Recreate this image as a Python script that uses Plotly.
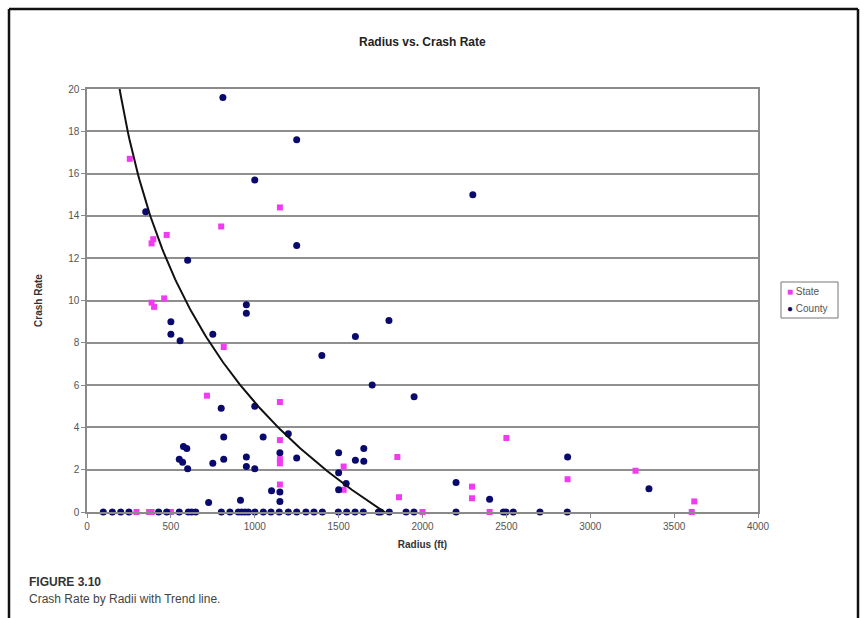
import numpy as np
import plotly.graph_objects as go

# ---- data ----
state_x = [255, 1150, 800, 475, 395, 385, 460, 385, 400, 815, 715, 1150, 1150, 1150, 1150, 1150,
           1530, 1530, 2500, 1850, 3270, 2865, 2295, 2295, 1860, 3620,
           295, 370, 385, 500, 2000, 2400, 3605]
state_y = [16.7, 14.4, 13.5, 13.1, 12.9, 12.7, 10.1, 9.9, 9.7, 7.8, 5.5, 5.2, 3.4, 2.5, 2.3, 1.3,
           2.15, 1.05, 3.5, 2.6, 1.95, 1.55, 1.2, 0.65, 0.7, 0.5,
           0, 0, 0, 0, 0, 0, 0]

county_x = [810, 1250, 1000, 350, 1250, 600, 950, 950, 500, 500, 555, 750, 1400, 1600, 1800, 1700,
            1950, 2300, 800, 1000, 815, 1050, 1200, 575, 595, 550, 570, 600, 750, 815, 950, 950,
            1000, 1150, 1150, 1150, 1250, 1100, 725, 915, 1500, 1500, 1500, 1545, 1600, 1650, 1650,
            2865, 2200, 2400, 3350,
            97, 151, 201, 250, 427, 475, 550, 604, 624, 648, 801, 852, 902, 922, 942, 962, 1001,
            1051, 1097, 1146, 1200, 1250, 1305, 1353, 1403, 1498, 1548, 1598, 1647, 1737, 1751,
            1802, 1902, 1949, 2200, 2482, 2498, 2541, 2700, 2863]
county_y = [19.6, 17.6, 15.7, 14.2, 12.6, 11.9, 9.8, 9.4, 9.0, 8.4, 8.1, 8.4, 7.4, 8.3, 9.05, 6.0,
            5.45, 15.0, 4.9, 5.0, 3.55, 3.55, 3.7, 3.1, 3.0, 2.5, 2.35, 2.05, 2.3, 2.5, 2.6, 2.15,
            2.05, 2.8, 0.95, 0.5, 2.55, 1.0, 0.45, 0.55, 2.8, 1.85, 1.05, 1.35, 2.45, 2.4, 3.0,
            2.6, 1.4, 0.6, 1.1] + [0] * 40

# logarithmic trend line  y = a*ln(x) + b
trend_a = -9.05
trend_b = 67.7
trend_x = np.linspace(150, 1850, 200)
trend_y = trend_a * np.log(trend_x) + trend_b

x_ticks = [0, 500, 1000, 1500, 2000, 2500, 3000, 3500, 4000]
y_ticks = [0, 2, 4, 6, 8, 10, 12, 14, 16, 18, 20]

STATE_COLOR = "#f03cf0"
COUNTY_COLOR = "#0a0a6e"

W, H = 867, 618
L, R, T, B = 87, 758, 89, 512


def px(xp):
    return (xp - L) / (R - L)


def py(yp):
    return (B - yp) / (B - T)


fig = go.Figure()
fig.add_trace(go.Scatter(x=state_x, y=state_y, mode="markers", name="State",
                         marker=dict(symbol="square", size=6, color=STATE_COLOR),
                         cliponaxis=False))
fig.add_trace(go.Scatter(x=county_x, y=county_y, mode="markers", name="County",
                         marker=dict(symbol="circle", size=7, color=COUNTY_COLOR),
                         cliponaxis=False))
fig.add_trace(go.Scatter(x=trend_x, y=trend_y, mode="lines", showlegend=False,
                         line=dict(color="#111111", width=2)))

font_main = "Liberation Sans, Arial, sans-serif"

fig.update_layout(
    width=W, height=H,
    margin=dict(l=L, r=W - R, t=T, b=H - B, autoexpand=False),
    paper_bgcolor="white", plot_bgcolor="white",
    font=dict(family=font_main, size=10, color="#444444"),
    showlegend=False,
    xaxis=dict(range=[0, 4000], tickvals=x_ticks, showgrid=False, zeroline=False,
               showline=True, linecolor="#8a8a8a", linewidth=1.5, mirror=True,
               ticks="outside", ticklen=4, tickcolor="#8a8a8a",
               tickfont=dict(size=10, color="#555555"),
               title=dict(text="<b>Radius (ft)</b>", font=dict(size=10, color="#333333"), standoff=10)),
    yaxis=dict(range=[0, 20], tickvals=y_ticks, showgrid=True, gridcolor="#8f8f8f", gridwidth=2,
               zeroline=False, showline=True, linecolor="#8a8a8a", linewidth=1.5, mirror=True,
               ticks="outside", ticklen=4, tickcolor="#8a8a8a",
               tickfont=dict(size=10, color="#555555"),
               title=dict(text="<b>Crash Rate</b>", font=dict(size=10, color="#333333"), standoff=24)),
)

fig.add_annotation(text="<b>Radius vs. Crash Rate</b>", xref="paper", yref="paper",
                   x=px(422), y=py(42), showarrow=False, xanchor="center", yanchor="middle",
                   font=dict(size=12, color="#222222", family=font_main))
fig.add_annotation(text="<b>FIGURE 3.10</b>", xref="paper", yref="paper",
                   x=px(27), y=py(582), showarrow=False, xanchor="left", yanchor="middle",
                   font=dict(size=12, color="#333333", family=font_main))
fig.add_annotation(text="Crash Rate by Radii with Trend line.", xref="paper", yref="paper",
                   x=px(27), y=py(599), showarrow=False, xanchor="left", yanchor="middle",
                   font=dict(size=12, color="#444444", family=font_main))

# compact legend (box + text entries)
fig.add_shape(type="rect", xref="paper", yref="paper", x0=px(781), x1=px(838), y0=py(318), y1=py(282),
              line=dict(color="#777777", width=1), fillcolor="white")
fig.add_annotation(text=f"<span style='color:{STATE_COLOR}'>■</span> State", xref="paper", yref="paper",
                   x=px(785), y=py(291), showarrow=False, xanchor="left", yanchor="middle",
                   font=dict(size=10, color="#555555", family=font_main))
fig.add_annotation(text=f"<span style='color:{COUNTY_COLOR}'>●</span> County", xref="paper", yref="paper",
                   x=px(785), y=py(308), showarrow=False, xanchor="left", yanchor="middle",
                   font=dict(size=10, color="#555555", family=font_main))

# outer frame
frame = dict(color="#111111", width=2.5)
fig.add_shape(type="line", xref="paper", yref="paper", x0=px(9), x1=px(9), y0=py(9), y1=py(640), line=frame)
fig.add_shape(type="line", xref="paper", yref="paper", x0=px(9), x1=px(858), y0=py(9), y1=py(9), line=frame)
fig.add_shape(type="line", xref="paper", yref="paper", x0=px(858), x1=px(858), y0=py(9), y1=py(640), line=frame)

fig.write_html("out.html")
